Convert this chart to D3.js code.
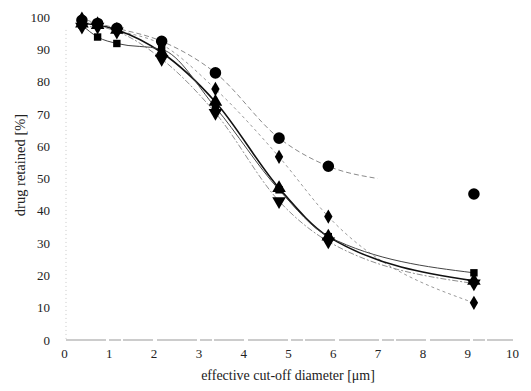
<!DOCTYPE html>
<html>
<head>
<meta charset="utf-8">
<script src="https://cdn.jsdelivr.net/npm/d3@7/dist/d3.min.js"></script>
<style>
  html, body { margin: 0; padding: 0; background: #fff; }
  svg { display: block; }
  text { font-family: "Liberation Serif", "DejaVu Serif", serif; }
</style>
</head>
<body>
<svg id="chart" width="531" height="391"></svg>
<script>
// ---- data ----
const diameters = [0.4, 0.75, 1.18, 2.18, 3.38, 4.8, 5.9, 9.15];
const circleSeries   = [99, 98, 96.5, 92.5, 82.7, 62.5, 53.8, 45.2];
const diamondSeries  = [99.5, 98, 96, 91.5, 77.7, 56.7, 38.2, 11.5];
const triUpSeries    = [98, 97.5, 96, 89, 73.7, 47, 32, 18.3];
const triDownSeries  = [97, 97, 95.5, 87, 70.3, 43, 30.5, 17.5];
const squareSeries   = [97.5, 93.8, 91.8, 90, 72, 46.5, 32, 20.8];
const circleFitTail  = [[7.0, 50]];   // end of the fitted curve of the circle series
const xTicks = [0, 1, 2, 3, 4, 5, 6, 7, 8, 9, 10];
const yTicks = [0, 10, 20, 30, 40, 50, 60, 70, 80, 90, 100];
const xTitle = "effective cut-off diameter [\u03bcm]";
const yTitle = "drug retained [%]";

// ---- drawing ----
const svg = d3.select("#chart");
const x = d3.scaleLinear().domain([0, 10]).range([64, 512]);
const y = d3.scaleLinear().domain([0, 100]).range([340, 17]);

// axes lines
svg.append("line")
  .attr("x1", x(0) + 2).attr("x2", x(10) + 1)
  .attr("y1", y(0)).attr("y2", y(0))
  .attr("stroke", "#9a9a9a").attr("stroke-width", 1.2)
  .attr("stroke-dasharray", "40,3,12,2,30,4");
svg.append("line")
  .attr("x1", x(0) + 2).attr("x2", x(0) + 2)
  .attr("y1", y(96)).attr("y2", y(0))
  .attr("stroke", "#c8c8c8").attr("stroke-width", 1)
  .attr("stroke-dasharray", "1,3");

const xAxis = svg.append("g")
  .attr("transform", `translate(0,${y(0) + 3})`)
  .call(d3.axisBottom(x).tickValues(xTicks).tickSize(0).tickPadding(6));
xAxis.select(".domain").remove();
xAxis.selectAll("text").attr("font-size", 13).attr("fill", "#222")
  .style("font-family", "Liberation Serif");

const yAxis = svg.append("g")
  .attr("transform", `translate(${x(0)},0)`)
  .call(d3.axisLeft(y).tickValues(yTicks).tickSize(0).tickPadding(14));
yAxis.select(".domain").remove();
yAxis.selectAll("text").attr("font-size", 13).attr("fill", "#222")
  .style("font-family", "Liberation Serif");

svg.append("text")
  .attr("x", 288).attr("y", 380)
  .attr("text-anchor", "middle").attr("font-size", 14).attr("fill", "#222")
  .text(xTitle);
svg.append("text")
  .attr("transform", "translate(25,165) rotate(-90)")
  .attr("text-anchor", "middle").attr("font-size", 14.5).attr("fill", "#222")
  .text(yTitle);

// series definitions
const series = [
  { name: "circle",  vals: circleSeries,  sym: d3.symbolCircle,   size: 105, stroke: "#8a8a8a", width: 1,   dash: "5,3", tail: circleFitTail, lineN: 7 },
  { name: "diamond", vals: diamondSeries, sym: d3.symbolDiamond,  size: 60,  stroke: "#9a9a9a", width: 1,   dash: "3,3" },
  { name: "triUp",   vals: triUpSeries,   sym: d3.symbolTriangle, size: 80,  stroke: "#111",    width: 1.6, dash: null },
  { name: "triDown", vals: triDownSeries, sym: d3.symbolTriangle, size: 80,  stroke: "#8f8f8f", width: 1,   dash: "6,2,2,2", rot: 180 },
  { name: "square",  vals: squareSeries,  sym: d3.symbolSquare,   size: 55,  stroke: "#444",    width: 1,   dash: null }
];

const line = d3.line().x(d => x(d[0])).y(d => y(d[1])).curve(d3.curveMonotoneX);

series.forEach(s => {
  let pts = diameters.map((dx, i) => [dx, s.vals[i]]);
  let linePts = s.lineN ? pts.slice(0, s.lineN).concat(s.tail || []) : pts;
  const p = svg.append("path")
    .datum(linePts)
    .attr("d", line)
    .attr("fill", "none")
    .attr("stroke", s.stroke)
    .attr("stroke-width", s.width);
  if (s.dash) p.attr("stroke-dasharray", s.dash);
});

series.forEach(s => {
  const pts = diameters.map((dx, i) => [dx, s.vals[i]]);
  svg.append("g").selectAll("path")
    .data(pts).join("path")
    .attr("d", d3.symbol().type(s.sym).size(s.size))
    .attr("transform", d => `translate(${x(d[0])},${y(d[1])})` + (s.rot ? ` rotate(${s.rot})` : ""))
    .attr("fill", "#000");
});
</script>
</body>
</html>
